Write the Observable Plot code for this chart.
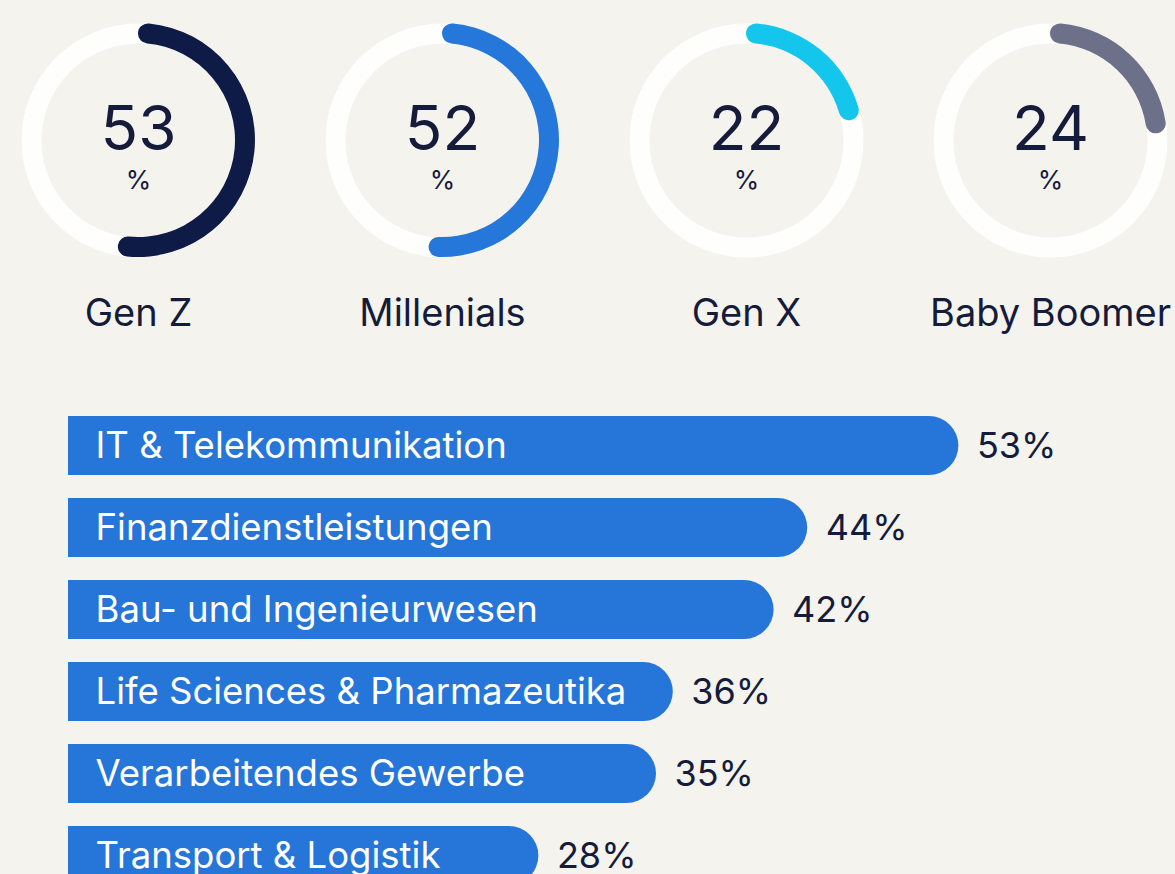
<!DOCTYPE html>
<html>
<head>
<meta charset="utf-8">
<script src="https://cdn.jsdelivr.net/npm/d3@7"></script>
<script src="https://cdn.jsdelivr.net/npm/@observablehq/plot@0.6"></script>
<style>
  html, body { margin: 0; padding: 0; background: #f5f3ee; }
  #chart { width: 1175px; height: 874px; overflow: hidden; }
  #chart svg { display: block; }
</style>
</head>
<body>
<div id="chart"></div>
<script>
// ---- Data ----
const generations = ["Gen Z", "Millenials", "Gen X", "Baby Boomer"];
const genValues = [53, 52, 22, 24];
const genColors = ["#0f1b47", "#2577da", "#14c6ec", "#6c7189"];

const industries = [
  "IT & Telekommunikation",
  "Finanzdienstleistungen",
  "Bau- und Ingenieurwesen",
  "Life Sciences & Pharmazeutika",
  "Verarbeitendes Gewerbe",
  "Transport & Logistik"
];
const industryValues = [53, 44, 42, 36, 35, 28];

// ---- Tables ----
const gens = generations.map((g, i) => ({gen: g, value: genValues[i], color: genColors[i]}));
const bars = industries.map((name, i) => ({name, value: industryValues[i]}));

const ink = "#141b3b";
const font = "Inter, 'Noto Sans', sans-serif";

const angle = d3.scaleLinear([0, 100], [0, 2 * Math.PI]);
const arcGen = d3.arc().innerRadius(97).outerRadius(117).cornerRadius(10).startAngle(0);

const donut = Plot.plot({
  width: 1175,
  height: 370,
  marginTop: 0, marginLeft: 0, marginRight: 0, marginBottom: 90,
  x: {type: "point", domain: generations, range: [137, 1051], padding: 0, axis: null},
  style: {background: "transparent", fontFamily: font, overflow: "visible"},
  marks: [
    Plot.dot(gens, {x: "gen", r: 107, stroke: "#fefefd", strokeWidth: 20, fill: "none"}),
    Plot.dot(gens, {
      x: "gen", r: 107,
      render(index, scales, values, dimensions) {
        const g = d3.create("svg:g");
        const cy = (dimensions.marginTop + dimensions.height - dimensions.marginBottom) / 2;
        for (const i of index) {
          g.append("path")
            .attr("d", arcGen.endAngle(angle(gens[i].value))())
            .attr("transform", `translate(${values.x[i]},${cy})`)
            .attr("fill", gens[i].color);
        }
        return g.node();
      }
    }),
    Plot.text(gens, {x: "gen", text: d => String(d.value), fontSize: 62, dy: -10, fill: ink}),
    Plot.text(gens, {x: "gen", text: () => "%", fontSize: 26, dy: 40, fill: ink}),
    Plot.text(gens, {x: "gen", text: "gen", fontSize: 38, dy: 173, fill: ink})
  ]
});

const barChart = Plot.plot({
  width: 1175,
  height: 504,
  margin: 0,
  x: {domain: [0, 53], range: [68, 958.4], axis: null},
  y: {type: "band", domain: industries, range: [45, 515.2], paddingInner: 0.28, paddingOuter: 0, axis: null},
  style: {background: "transparent", fontFamily: font},
  marks: [
    Plot.barX(bars, {x: "value", y: "name", fill: "#2675d8", rx2: 29.5}),
    Plot.text(bars, {x: 0, y: "name", text: "name", textAnchor: "start", dx: 27, dy: 0, fill: "white", fontSize: 36.5}),
    Plot.text(bars, {x: "value", y: "name", text: d => d.value + "%", textAnchor: "start", dx: 18, dy: 0, fontSize: 36, fill: ink})
  ]
});

document.getElementById("chart").append(donut, barChart);
</script>
</body>
</html>
